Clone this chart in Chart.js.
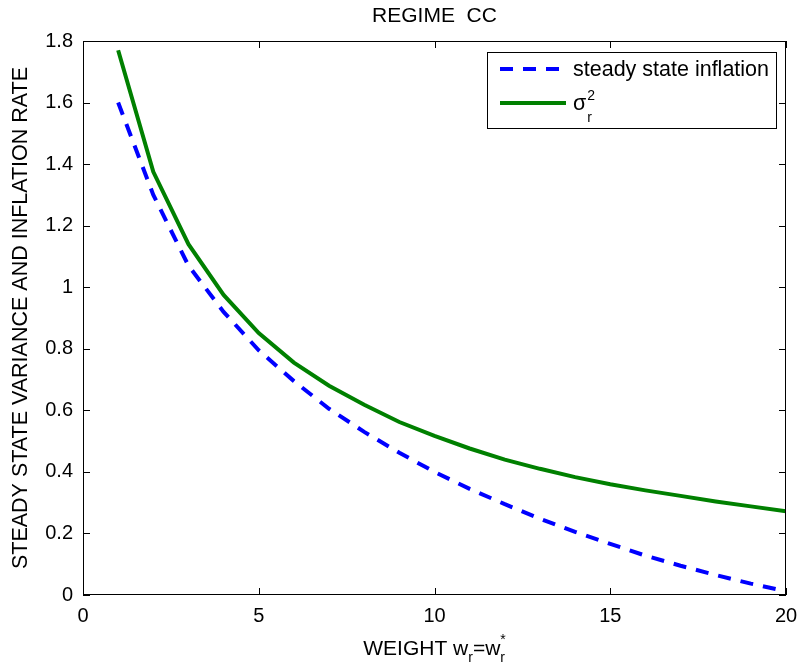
<!DOCTYPE html>
<html>
<head>
<meta charset="utf-8">
<script src="https://cdn.jsdelivr.net/npm/chart.js@4.4.0/dist/chart.umd.min.js"></script>
<style>
  body { margin: 0; background: #fff; }
  #wrap { width: 802px; height: 670px; }
</style>
</head>
<body>
<div id="wrap"><canvas id="chart" width="802" height="670"></canvas></div>
<script>
// values
const weights = [1, 2, 3, 4, 5, 6, 7, 8, 9, 10, 11, 12, 13, 14, 15, 16, 17, 18, 19, 20];
const inflation = [1.60, 1.30, 1.07, 0.92, 0.795, 0.695, 0.605, 0.53, 0.462, 0.40, 0.345, 0.295, 0.248, 0.205, 0.166, 0.128, 0.095, 0.065, 0.037, 0.012];
const variance = [1.77, 1.375, 1.14, 0.975, 0.851, 0.755, 0.68, 0.618, 0.562, 0.517, 0.476, 0.44, 0.41, 0.383, 0.36, 0.34, 0.322, 0.304, 0.288, 0.272];
const xTicks = [0, 5, 10, 15, 20];
const yTicks = [0, 0.2, 0.4, 0.6, 0.8, 1, 1.2, 1.4, 1.6, 1.8];
const chartTitle = 'REGIME  CC';

const FONT = "'Liberation Sans', Arial, sans-serif";

// draws the box, inward ticks on all sides, title, x label and legend
const matlabAxes = {
    id: 'matlabAxes',
    afterDraw(chart) {
        const ctx = chart.ctx;
        const a = chart.chartArea;
        const xs = chart.scales.x, ys = chart.scales.y;
        const tl = 7;
        ctx.save();
        ctx.strokeStyle = '#000';
        ctx.lineWidth = 1;
        ctx.strokeRect(a.left + 0.5, a.top + 0.5, a.right - a.left - 1, a.bottom - a.top - 1);
        ctx.beginPath();
        xTicks.forEach(v => {
            const px = Math.round(xs.getPixelForValue(v)) + 0.5;
            ctx.moveTo(px, a.bottom); ctx.lineTo(px, a.bottom - tl);
            ctx.moveTo(px, a.top); ctx.lineTo(px, a.top + tl);
        });
        yTicks.forEach(v => {
            const py = Math.round(ys.getPixelForValue(v)) + 0.5;
            ctx.moveTo(a.left, py); ctx.lineTo(a.left + tl, py);
            ctx.moveTo(a.right, py); ctx.lineTo(a.right - tl, py);
        });
        ctx.stroke();

        const big = '21px ' + FONT, small = '14px ' + FONT;
        const cx = (a.left + a.right) / 2;

        // title over the plot box
        ctx.fillStyle = '#000';
        ctx.font = big;
        ctx.textAlign = 'center';
        ctx.textBaseline = 'middle';
        ctx.fillText(chartTitle, cx, 16);

        // x axis label with sub/superscripts
        const parts = [
            { t: 'WEIGHT w', f: big, dy: 0 },
            { t: 'r', f: small, dy: 7 },
            { t: '=w', f: big, dy: 0 },
            { t: 'r', f: small, dy: 7, keep: true },
            { t: '*', f: small, dy: -11 }
        ];
        let total = 0;
        parts.forEach(p => { ctx.font = p.f; p.w = ctx.measureText(p.t).width; if (!p.keep) total += p.w; });
        let x = cx - total / 2;
        ctx.textBaseline = 'alphabetic';
        ctx.textAlign = 'left';
        parts.forEach(p => {
            ctx.font = p.f;
            ctx.fillText(p.t, x, 655 + p.dy);
            if (!p.keep) x += p.w;
        });

        // legend
        const lx = 487, ly = 52, lw = 289, lh = 76;
        ctx.fillStyle = '#fff';
        ctx.fillRect(lx, ly, lw, lh);
        ctx.strokeRect(lx + 0.5, ly + 0.5, lw, lh);
        const rows = [69, 103];
        chart.data.datasets.forEach((ds, i) => {
            const y = rows[i];
            ctx.beginPath();
            ctx.strokeStyle = ds.borderColor;
            ctx.lineWidth = ds.borderWidth;
            ctx.setLineDash(ds.borderDash || []);
            ctx.moveTo(500, y); ctx.lineTo(566, y);
            ctx.stroke();
            ctx.setLineDash([]);
            ctx.fillStyle = '#000';
            ctx.font = '21.5px ' + FONT;
            ctx.textBaseline = 'middle';
            ctx.fillText(ds.label, 573, y + 1);
            if (ds.sub) {
                const w = ctx.measureText(ds.label).width;
                ctx.font = small;
                ctx.textBaseline = 'alphabetic';
                ctx.fillText(ds.sup, 573 + w + 1, y - 3);
                ctx.fillText(ds.sub, 573 + w + 1, y + 19);
            }
        });
        ctx.restore();
    }
};

new Chart(document.getElementById('chart'), {
    type: 'line',
    data: {
        datasets: [{
            label: 'steady state inflation',
            data: weights.map((w, i) => ({ x: w, y: inflation[i] })),
            borderColor: '#0000ff',
            borderWidth: 4,
            borderDash: [13, 10],
            pointRadius: 0,
            tension: 0,
            fill: false
        }, {
            label: 'σ',
            sub: 'r',
            sup: '2',
            data: weights.map((w, i) => ({ x: w, y: variance[i] })),
            borderColor: '#008000',
            borderWidth: 4,
            pointRadius: 0,
            tension: 0,
            fill: false
        }]
    },
    options: {
        responsive: false,
        animation: false,
        layout: { padding: { left: 0, right: 16, top: 41, bottom: 0 } },
        plugins: {
            legend: { display: false },
            tooltip: { enabled: false },
            title: { display: false }
        },
        scales: {
            x: {
                type: 'linear',
                min: 0,
                max: 20,
                afterBuildTicks: s => { s.ticks = xTicks.map(v => ({ value: v })); },
                afterFit: s => { s.height = 75; s.paddingRight = 0; s.paddingLeft = 0; },
                grid: { display: false, drawTicks: false },
                border: { display: false },
                ticks: { color: '#000', padding: 9, maxRotation: 0, font: { family: FONT, size: 20 } }
            },
            y: {
                min: 0,
                max: 1.8,
                afterBuildTicks: s => { s.ticks = yTicks.map(v => ({ value: v })); },
                afterFit: s => { s.width = 83; s.paddingTop = 0; s.paddingBottom = 0; },
                grid: { display: false, drawTicks: false },
                border: { display: false },
                ticks: {
                    color: '#000',
                    padding: 10,
                    font: { family: FONT, size: 20 },
                    callback: v => String(+v.toFixed(1))
                },
                title: {
                    display: true,
                    text: 'STEADY STATE VARIANCE AND INFLATION RATE',
                    color: '#000',
                    font: { family: FONT, size: 21.5 },
                    padding: { top: 8, bottom: 0 }
                }
            }
        }
    },
    plugins: [matlabAxes]
});
</script>
</body>
</html>
